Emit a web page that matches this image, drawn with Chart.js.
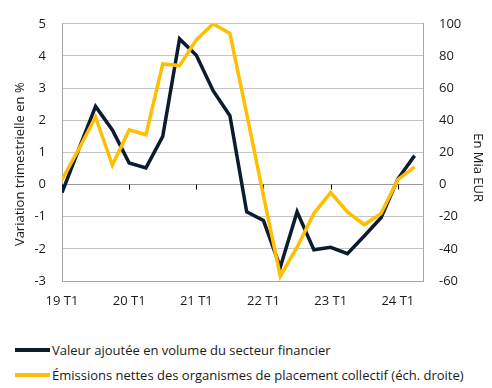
<!DOCTYPE html>
<html>
<head>
<meta charset="utf-8">
<script src="https://cdn.jsdelivr.net/npm/chart.js@4.4.1/dist/chart.umd.min.js"></script>
<style>
  body { margin: 0; background: #fff; font-family: "Open Sans", sans-serif; }
  #wrap { position: relative; width: 492px; height: 388px; }
  canvas { position: absolute; left: 0; top: 0; }
  .leg { position: absolute; left: 15px; font-size: 13px; color: #1a1a1a; display: flex; align-items: center; white-space: nowrap; }
  .leg span.sw { display: inline-block; width: 35px; height: 4px; margin-right: 2px; }
</style>
</head>
<body>
<div id="wrap">
  <canvas id="myChart" width="492" height="320"></canvas>
  <div class="leg" style="top:341px"><span class="sw" style="background:#0c1c2e"></span>Valeur ajoutée en volume du secteur financier</div>
  <div class="leg" style="top:366px"><span class="sw" style="background:#ffbf00"></span>Émissions nettes des organismes de placement collectif (éch. droite)</div>
</div>
<script>
const quarters = ['19 T1','19 T2','19 T3','19 T4','20 T1','20 T2','20 T3','20 T4',
                  '21 T1','21 T2','21 T3','21 T4','22 T1','22 T2','22 T3','22 T4',
                  '23 T1','23 T2','23 T3','23 T4','24 T1','24 T2'];
const valeurAjoutee = [-0.25, 1.1, 2.43, 1.7, 0.67, 0.52, 1.5, 4.53, 4.02, 2.92, 2.14,
                       -0.85, -1.12, -2.57, -0.85, -2.03, -1.95, -2.15, -1.6, -1.03, 0.17, 0.9];
const emissionsOPC = [3, 22, 42, 12, 34, 31, 75, 74, 90, 100, 94, 44, -7, -57, -39, -18,
                      -5, -17, -25, -18, 3, 11];

const txt = '#1a1a1a';
const font = { family: '"Open Sans", sans-serif', size: 13 };

// small tick marks on the zero line, under the series
const zeroTicks = {
  id: 'zeroTicks',
  beforeDatasetsDraw(chart) {
    const x = chart.scales.x, y = chart.scales.y;
    const ctx = chart.ctx;
    const y0 = y.getPixelForValue(0);
    ctx.save();
    ctx.strokeStyle = '#000';
    ctx.lineWidth = 1;
    x.ticks.forEach(t => {
      const px = Math.round(x.getPixelForValue(t.value)) + 0.5;
      ctx.beginPath();
      ctx.moveTo(px, y0);
      ctx.lineTo(px, y0 + 5);
      ctx.stroke();
    });
    ctx.restore();
  }
};

new Chart(document.getElementById('myChart'), {
  type: 'line',
  data: {
    datasets: [
      {
        label: 'Valeur ajoutée en volume du secteur financier',
        data: valeurAjoutee.map((v, i) => ({ x: i, y: v })),
        borderColor: '#0c1c2e',
        backgroundColor: '#0c1c2e',
        borderWidth: 3.5,
        pointRadius: 0,
        tension: 0,
        yAxisID: 'y',
        order: 2
      },
      {
        label: 'Émissions nettes des organismes de placement collectif (éch. droite)',
        data: emissionsOPC.map((v, i) => ({ x: i, y: v })),
        borderColor: '#ffbf00',
        backgroundColor: '#ffbf00',
        borderWidth: 3.5,
        pointRadius: 0,
        tension: 0,
        yAxisID: 'y1',
        order: 1
      }
    ]
  },
  options: {
    responsive: false,
    animation: false,
    layout: { padding: { top: 17, left: 0, right: 0, bottom: 0 } },
    plugins: { legend: { display: false }, tooltip: { enabled: false } },
    scales: {
      x: {
        type: 'linear',
        min: 0,
        max: 21.5,
        afterBuildTicks: s => {
          s.ticks = quarters.map((q, i) => ({ value: i, q: q })).filter(t => t.q.endsWith('T1')).map(t => ({ value: t.value }));
        },
        afterFit: s => { s.height = 39; },
        ticks: {
          color: txt, font: font, padding: 12, maxRotation: 0,
          callback: v => quarters[v]
        },
        grid: { drawOnChartArea: false, drawTicks: false },
        border: { display: true, color: '#a6a6a6', width: 1 }
      },
      y: {
        position: 'left',
        min: -3,
        max: 5,
        afterFit: s => { s.width = 62; },
        ticks: { stepSize: 1, color: txt, font: font, padding: 16 },
        grid: {
          drawTicks: false,
          color: ctx => ctx.tick && ctx.tick.value === 0 ? '#9a9a9a' : '#c4c4c4',
          lineWidth: 1
        },
        border: { display: true, color: '#a6a6a6', width: 1 },
        title: { display: true, text: 'Variation trimestrielle en %       ', color: txt, font: font, padding: { top: 12, bottom: 0 } }
      },
      y1: {
        position: 'right',
        min: -60,
        max: 100,
        afterFit: s => { s.width = 69; },
        ticks: { stepSize: 20, color: txt, font: font, padding: 16 },
        grid: { drawOnChartArea: false, drawTicks: false },
        border: { display: true, color: '#a6a6a6', width: 1 },
        title: { display: true, text: '         En Mia EUR', color: txt, font: font, padding: { top: 6, bottom: 0 } }
      }
    }
  },
  plugins: [zeroTicks]
});
</script>
</body>
</html>
